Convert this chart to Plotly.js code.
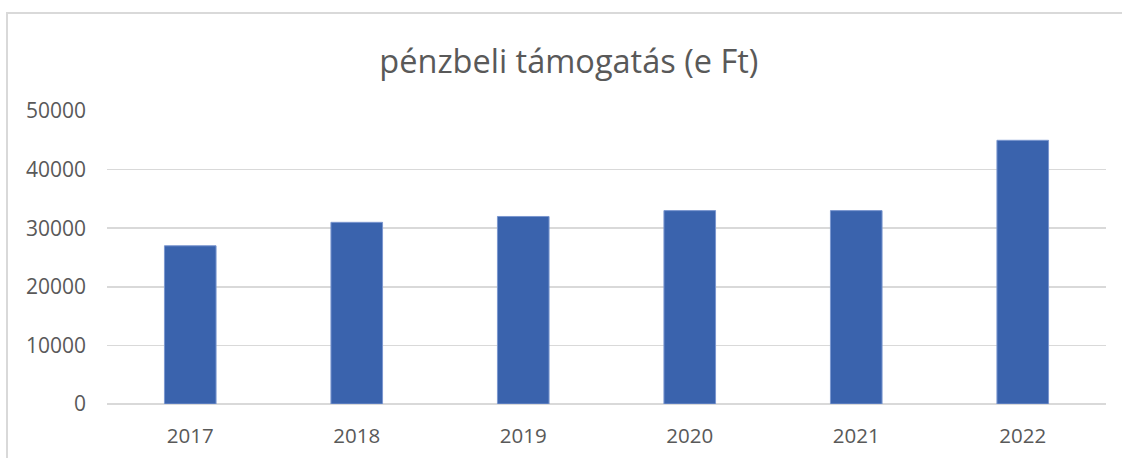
<!DOCTYPE html>
<html>
<head>
<meta charset="utf-8">
<script src="https://cdn.plot.ly/plotly-3.0.1.min.js"></script>
<style>
  html, body { margin: 0; padding: 0; background: #fff; }
  #wrap { position: relative; width: 1122px; height: 458px; overflow: hidden; }
  #chart { position: absolute; left: 0; top: 0; width: 1122px; height: 458px; }
  #frame { position: absolute; left: 6px; top: 12px; width: 1200px; height: 500px;
           border-left: 2px solid #d9d9d9; border-top: 2px solid #d9d9d9; pointer-events: none; }
</style>
</head>
<body>
<div id="wrap">
  <div id="chart"></div>
  <div id="frame"></div>
</div>
<script>
const years = ["2017", "2018", "2019", "2020", "2021", "2022"];
const values = [27000, 31000, 32000, 33000, 33000, 45000];
const yTicks = [0, 10000, 20000, 30000, 40000, 50000];
const chartTitle = "pénzbeli támogatás (e Ft)";

const trace = {
  type: "bar",
  x: years,
  y: values,
  marker: { color: "#3A63AD", line: { color: "#7B97CF", width: 1 } },
  hoverinfo: "x+y"
};

const layout = {
  width: 1122,
  height: 458,
  margin: { l: 107, r: 16, t: 111, b: 54 },
  paper_bgcolor: "rgba(0,0,0,0)",
  plot_bgcolor: "#ffffff",
  font: { family: "Open Sans, Noto Sans, sans-serif", color: "#595959" },
  title: {
    text: chartTitle,
    font: { size: 32.5, color: "#595959", family: "Open Sans, Noto Sans, sans-serif" },
    x: 0.507, xanchor: "center",
    y: 0.865, yanchor: "middle"
  },
  bargap: 0.69,
  showlegend: false,
  xaxis: {
    type: "category",
    tickfont: { size: 20.5, color: "#595959" },
    ticks: "",
    showgrid: false,
    showline: false,
    zeroline: false,
    ticklabelstandoff: 17
  },
  yaxis: {
    range: [0, 50000],
    tickvals: yTicks,
    ticktext: yTicks.map(String),
    tickfont: { size: 21, color: "#595959" },
    showgrid: true,
    gridcolor: "#d9d9d9",
    gridwidth: 1.5,
    zeroline: true,
    zerolinecolor: "#d9d9d9",
    zerolinewidth: 1.5,
    showline: false,
    ticks: "",
    ticklabelstandoff: 20
  }
};

Plotly.newPlot("chart", [trace], layout, { displayModeBar: false, staticPlot: true });
</script>
</body>
</html>
